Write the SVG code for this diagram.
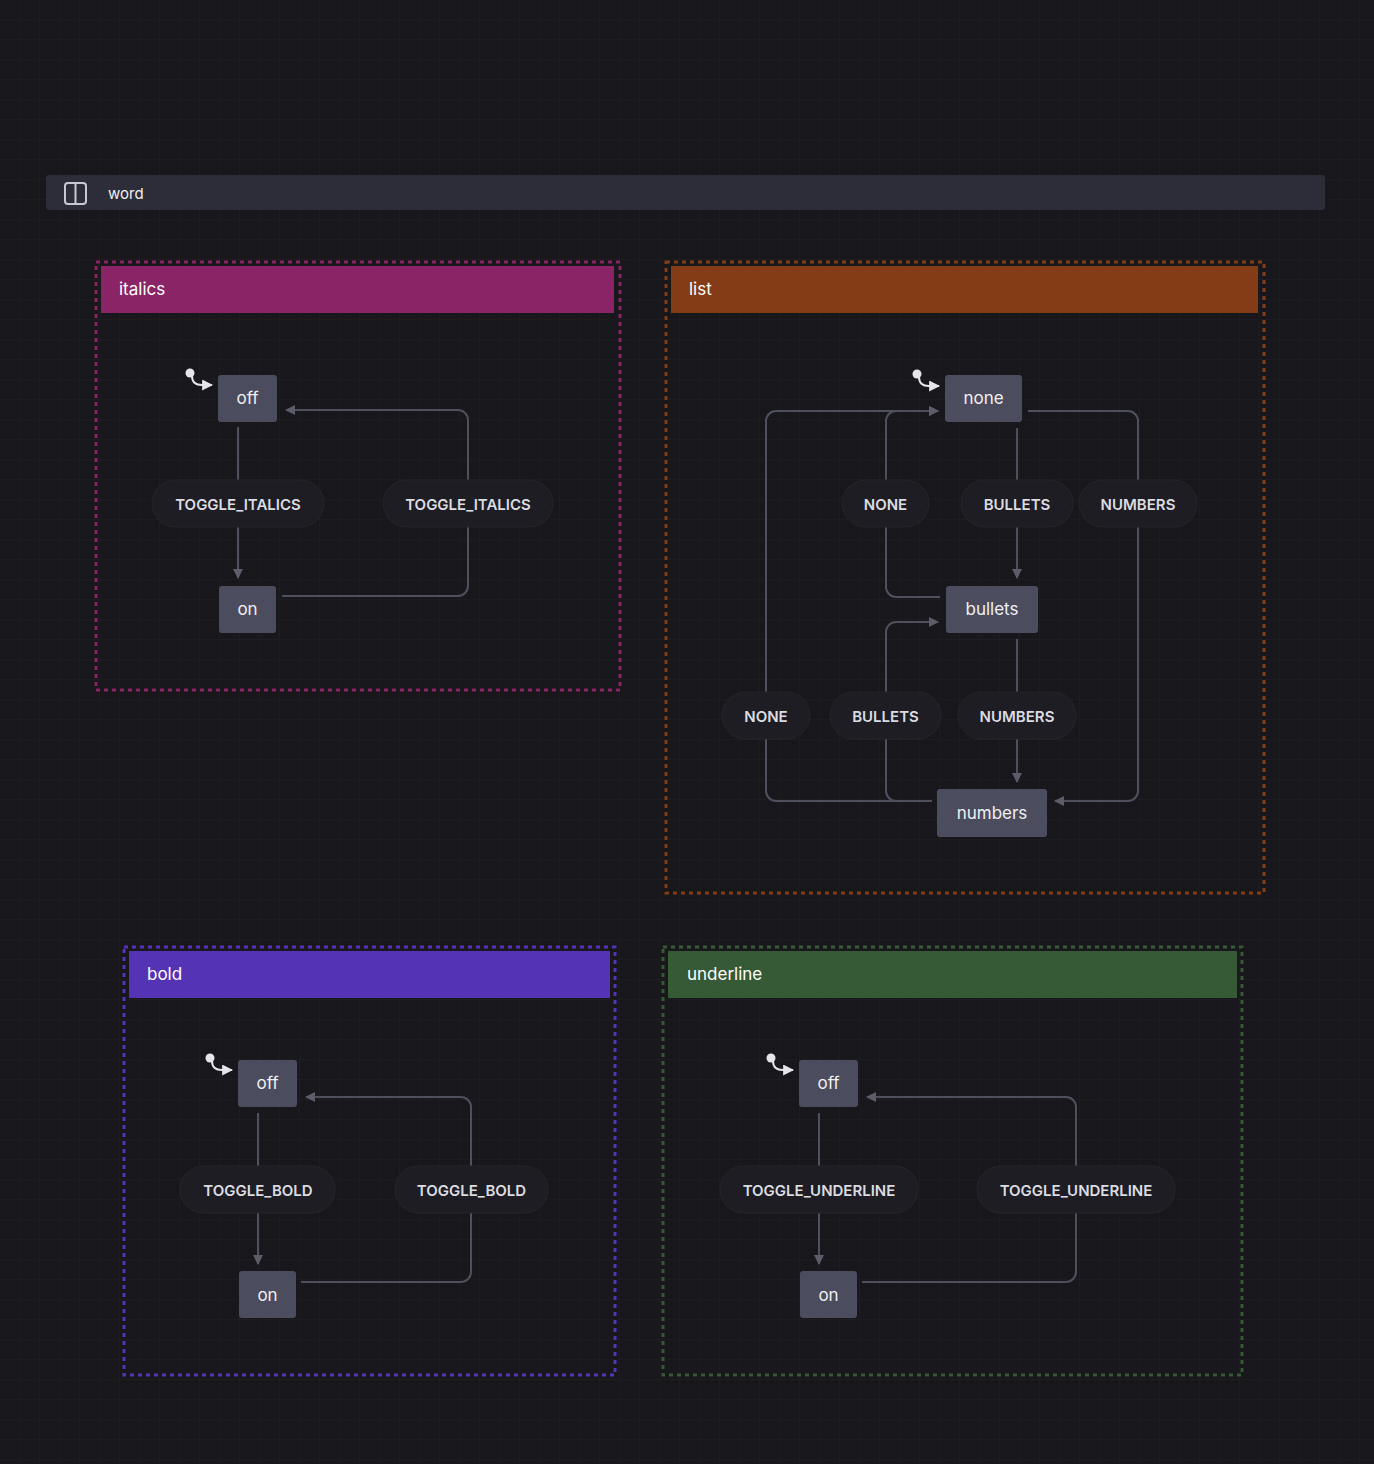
<svg xmlns="http://www.w3.org/2000/svg" width="1374" height="1464" viewBox="0 0 1374 1464">
<defs>
<pattern id="grid" width="20" height="20" patternUnits="userSpaceOnUse"><path d="M20 0V20H0" fill="none" stroke="#1f1f25" stroke-width="1"/></pattern>
<marker id="ar" viewBox="0 0 10 10" refX="9" refY="5" markerWidth="10" markerHeight="10" markerUnits="userSpaceOnUse" orient="auto"><path d="M0 0L10 5L0 10z" fill="#5c5c6b"/></marker>
<marker id="ia" viewBox="0 0 10 10" refX="9" refY="5" markerWidth="11" markerHeight="11" markerUnits="userSpaceOnUse" orient="auto"><path d="M0 0L10 5L0 10z" fill="#e6e6ea"/></marker>
</defs>
<style>
text{font-family:Inter,"Noto Sans","Liberation Sans",sans-serif}
.node rect{fill:#4b4c5d}
.node text{fill:#f0f0f3;font-size:17px;text-anchor:middle;dominant-baseline:central}
.pill rect{fill:#1d1d23;stroke:#25252c}
.pill text{fill:#dcdce2;font-size:15px;font-weight:600;text-anchor:middle;dominant-baseline:central}
.e path{fill:none;stroke:#4f505e;stroke-width:2;marker-end:url(#ar)}
.e path.n{marker-end:none}
.ini path{fill:none;stroke:#e6e6ea;stroke-width:2;marker-end:url(#ia)}
.ini circle{fill:#e6e6ea}
.hd text{fill:#fff;font-size:17px;dominant-baseline:central}
</style>
<rect width="1374" height="1464" fill="#17171c"/>
<rect width="1374" height="1464" fill="url(#grid)"/>
<g id="root">
<rect x="46" y="175" width="1279" height="35" rx="3" fill="#2d2d3a"/>
<rect x="65" y="183" width="21" height="21" rx="3" fill="none" stroke="#c8c8d0" stroke-width="2"/><line x1="75.5" y1="183" x2="75.5" y2="204" stroke="#c8c8d0" stroke-width="2"/>
<text x="108" y="193" font-size="15" fill="#f0f0f3" dominant-baseline="central">word</text>
</g>
<g id="italics" class="hd">
<rect x="96" y="262" width="524" height="428" fill="none" stroke="#8a2467" stroke-width="3" stroke-dasharray="4 4"/>
<rect x="101" y="266" width="513" height="47" fill="#8b2467"/><text x="119" y="289">italics</text>
</g>
<g id="list" class="hd">
<rect x="666" y="262" width="598" height="631" fill="none" stroke="#843c17" stroke-width="3" stroke-dasharray="4 4"/>
<rect x="671" y="266" width="587" height="47" fill="#843c17"/><text x="689" y="289">list</text>
</g>
<g id="bold" class="hd">
<rect x="124" y="947" width="491" height="428" fill="none" stroke="#5533b5" stroke-width="3" stroke-dasharray="4 4"/>
<rect x="129" y="951" width="481" height="47" fill="#5533b5"/><text x="147" y="974">bold</text>
</g>
<g id="underline" class="hd">
<rect x="663" y="947" width="579" height="428" fill="none" stroke="#355a35" stroke-width="3" stroke-dasharray="4 4"/>
<rect x="668" y="951" width="569" height="47" fill="#355a35"/><text x="687" y="974">underline</text>
</g>
<g id="connectors" class="e">
<!-- italics -->
<path class="n" d="M238 427V480"/><path d="M238 527V578"/>
<path class="n" d="M282 596H458a10 10 0 0 0 10-10V527"/><path d="M468 480V420a10 10 0 0 0-10-10H286"/>
<!-- bold -->
<path class="n" d="M258 1113V1166"/><path d="M258 1213V1264"/>
<path class="n" d="M301 1282H461a10 10 0 0 0 10-10V1213"/><path d="M471 1166V1107a10 10 0 0 0-10-10H306"/>
<!-- underline -->
<path class="n" d="M819 1113V1166"/><path d="M819 1213V1264"/>
<path class="n" d="M862 1282H1066a10 10 0 0 0 10-10V1213"/><path d="M1076 1166V1107a10 10 0 0 0-10-10H867"/>
<!-- list -->
<path class="n" d="M1017 428V480"/><path d="M1017 527V578"/>
<path class="n" d="M1028 411H1128a10 10 0 0 1 10 10V480"/><path d="M1138 527V791a10 10 0 0 1-10 10H1055"/>
<path class="n" d="M940 597H896a10 10 0 0 1-10-10V527"/><path d="M886 480V421a10 10 0 0 1 10-10H938"/>
<path class="n" d="M1017 639V692"/><path d="M1017 739V782"/>
<path class="n" d="M932 801H776a10 10 0 0 1-10-10V739"/><path d="M766 692V421a10 10 0 0 1 10-10H938"/>
<path class="n" d="M932 801H896a10 10 0 0 1-10-10V739"/><path d="M886 692V632a10 10 0 0 1 10-10H938"/>
</g>
<g class="ini">
<circle cx="190" cy="373" r="4.5"/><path d="M192 376q0 9 10 9h10"/>
<circle cx="917" cy="374" r="4.5"/><path d="M919 377q0 9 10 9h10"/>
<circle cx="210" cy="1058" r="4.5"/><path d="M212 1061q0 9 10 9h10"/>
<circle cx="771" cy="1058" r="4.5"/><path d="M773 1061q0 9 10 9h10"/>
</g>
<g id="it-off" class="node"><rect x="218" y="375" width="59" height="47" rx="3"/><text x="247.5" y="398">off</text></g>
<g id="it-on" class="node"><rect x="219" y="586" width="57" height="47" rx="3"/><text x="247.5" y="609">on</text></g>
<g id="it-l1" class="pill"><rect x="152" y="480" width="172" height="47" rx="23.5"/><text x="238" y="504">TOGGLE_ITALICS</text></g>
<g id="it-l2" class="pill"><rect x="383" y="480" width="170" height="47" rx="23.5"/><text x="468" y="504">TOGGLE_ITALICS</text></g>
<g id="li-none" class="node"><rect x="945" y="375" width="77" height="47" rx="3"/><text x="983.5" y="398">none</text></g>
<g id="li-bullets" class="node"><rect x="946" y="586" width="92" height="47" rx="3"/><text x="992" y="609">bullets</text></g>
<g id="li-numbers" class="node"><rect x="937" y="789" width="110" height="48" rx="3"/><text x="992" y="813">numbers</text></g>
<g class="pill"><rect x="842" y="480" width="87" height="47" rx="23.5"/><text x="885.5" y="504">NONE</text></g>
<g class="pill"><rect x="961" y="480" width="112" height="47" rx="23.5"/><text x="1017" y="504">BULLETS</text></g>
<g class="pill"><rect x="1079" y="480" width="118" height="47" rx="23.5"/><text x="1138" y="504">NUMBERS</text></g>
<g class="pill"><rect x="722" y="692" width="88" height="47" rx="23.5"/><text x="766" y="716">NONE</text></g>
<g class="pill"><rect x="830" y="692" width="111" height="47" rx="23.5"/><text x="885.5" y="716">BULLETS</text></g>
<g class="pill"><rect x="958" y="692" width="118" height="47" rx="23.5"/><text x="1017" y="716">NUMBERS</text></g>
<g id="bo-off" class="node"><rect x="238" y="1060" width="59" height="47" rx="3"/><text x="267.5" y="1083">off</text></g>
<g id="bo-on" class="node"><rect x="239" y="1271" width="57" height="47" rx="3"/><text x="267.5" y="1295">on</text></g>
<g class="pill"><rect x="180" y="1166" width="155" height="47" rx="23.5"/><text x="258" y="1190">TOGGLE_BOLD</text></g>
<g class="pill"><rect x="395" y="1166" width="153" height="47" rx="23.5"/><text x="471.5" y="1190">TOGGLE_BOLD</text></g>
<g id="un-off" class="node"><rect x="799" y="1060" width="59" height="47" rx="3"/><text x="828.5" y="1083">off</text></g>
<g id="un-on" class="node"><rect x="800" y="1271" width="57" height="47" rx="3"/><text x="828.5" y="1295">on</text></g>
<g class="pill"><rect x="720" y="1166" width="198" height="47" rx="23.5"/><text x="819" y="1190">TOGGLE_UNDERLINE</text></g>
<g class="pill"><rect x="977" y="1166" width="198" height="47" rx="23.5"/><text x="1076" y="1190">TOGGLE_UNDERLINE</text></g>
</svg>
